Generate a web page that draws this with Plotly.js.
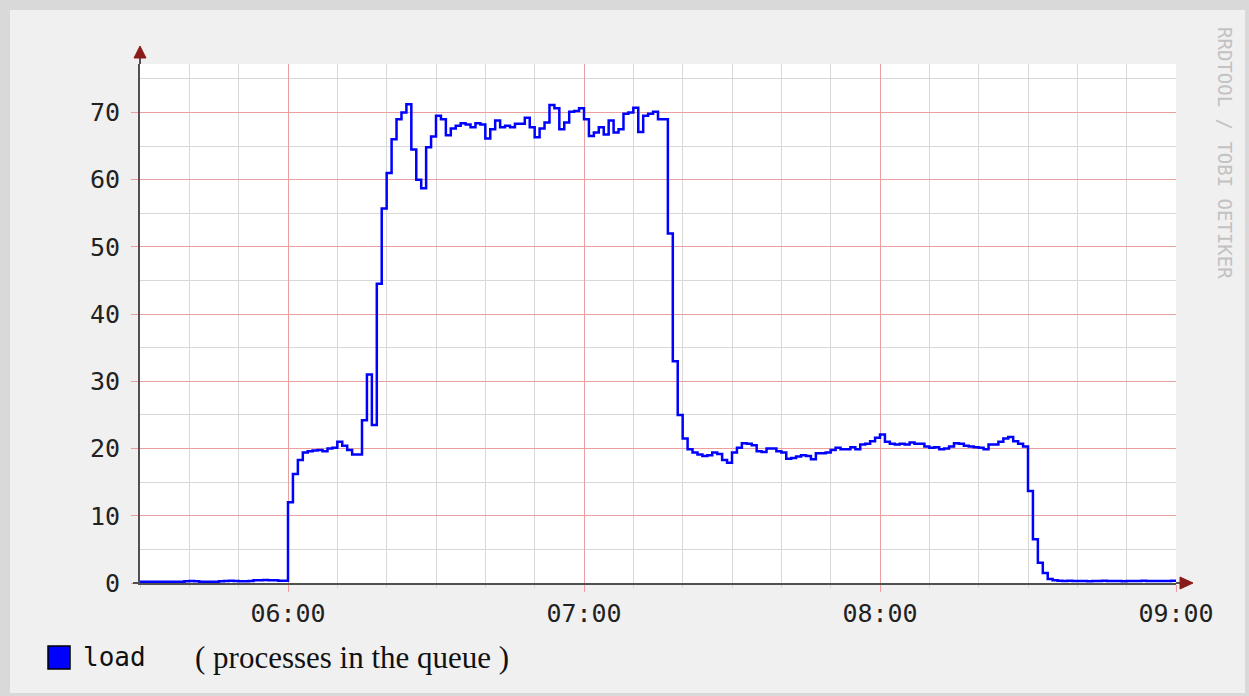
<!DOCTYPE html>
<html>
<head>
<meta charset="utf-8">
<script src="https://cdn.plot.ly/plotly-3.0.1.min.js"></script>
<style>
  html, body { margin:0; padding:0; width:1249px; height:696px; background:#d9d9d9; overflow:hidden; }
  #chart { position:absolute; left:10px; top:10px; width:1235px; height:683px; }
</style>
</head>
<body>
<div id="chart"></div>
<script>
// ---- data: load (processes in the queue), one value per minute ----
const seriesStart = '2024-01-01 05:30';   // first sample
const stepMinutes = 1;
const load0530 = [0.2,0.2,0.2,0.2,0.2,0.2,0.2,0.2,0.2,0.25,0.3,0.25,0.2,0.2,0.2,0.2,0.25,0.3,0.35,0.3,0.25,0.25,0.3,0.4,0.4,0.45,0.4,0.4,0.35,0.35];
const load0600 = [12,16.2,18.3,19.4,19.6,19.7,19.8,19.6,20.0,20.1,21.0,20.4,19.8,19.1,19.1,24.2,31.0,23.5,44.5,55.7,61.0,66.0,69.0,70.0,71.2,64.5,60.0,58.7,64.8,66.4];
const load0630 = [69.5,69.0,66.6,67.6,68.0,68.4,68.2,67.8,68.4,68.2,66.1,67.5,68.8,67.8,68.0,67.8,68.3,68.3,69.2,67.8,66.3,67.6,68.5,71.1,70.6,67.5,68.5,70.1,70.2,70.6];
const load0700 = [69.0,66.5,67.0,67.8,66.7,68.8,67.0,67.5,69.8,70.0,70.7,67.1,69.5,69.8,70.1,69.0,69.0,52.0,33.0,25.0,21.5,19.9,19.4,19.1,18.9,19.0,19.4,19.2,18.3,17.9];
const load0730 = [19.4,20.1,20.8,20.7,20.5,19.6,19.5,20.0,20.0,19.6,19.4,18.5,18.6,18.8,19.0,18.9,18.4,19.3,19.3,19.4,19.8,20.1,19.9,19.9,20.2,19.9,20.6,20.7,21.1,21.6];
const load0800 = [22.1,21.0,20.7,20.6,20.7,20.6,20.9,20.7,20.7,20.3,20.1,20.2,19.9,20.0,20.3,20.8,20.7,20.4,20.3,20.2,20.1,19.9,20.6,20.6,21.0,21.5,21.7,21.1,20.7,20.3];
const load0830 = [13.7,6.5,3.0,1.5,0.6,0.4,0.35,0.3,0.35,0.3,0.3,0.3,0.25,0.3,0.3,0.35,0.3,0.3,0.3,0.25,0.3,0.3,0.3,0.35,0.3,0.3,0.3,0.3,0.3,0.35,0.3];

const xRange = ['2024-01-01 05:30', '2024-01-01 09:00'];
const yRange = [0, 77.2];
const majorTick0 = '2024-01-01 06:00';
const legendName = 'load';
const legendNote = '( processes in the queue )';
const watermark = 'RRDTOOL / TOBI OETIKER';

// ---- build series ----
const loadValues = [].concat(load0530, load0600, load0630, load0700, load0730, load0800, load0830);
function pad(n){ return (n < 10 ? '0' : '') + n; }
const startMs = Date.UTC(2024, 0, 1, 5, 30);
const times = loadValues.map((_, i) => {
  const d = new Date(startMs + i * stepMinutes * 60000);
  return d.getUTCFullYear() + '-' + pad(d.getUTCMonth()+1) + '-' + pad(d.getUTCDate()) + ' ' +
         pad(d.getUTCHours()) + ':' + pad(d.getUTCMinutes());
});

// ---- page geometry helpers (page pixels -> paper fraction) ----
const PL = 140, PR = 1176, PT = 64, PB = 583;
const px = x => (x - PL) / (PR - PL);
const py = y => (PB - y) / (PB - PT);

const RED = '#eaa0a0';
const GRAY = '#d8d8d8';
const AXIS = '#505050';
const ARROW = '#8b1a1a';
const MONO = 'DejaVu Sans Mono, monospace';

const trace = {
  x: times, y: loadValues, type: 'scatter', mode: 'lines',
  line: { color: '#0000ff', width: 2.5, shape: 'hv' },
  hoverinfo: 'skip'
};

const layout = {
  width: 1235, height: 683,
  margin: { l: 130, r: 69, t: 54, b: 110 },
  paper_bgcolor: '#f0f0f0',
  plot_bgcolor: '#ffffff',
  showlegend: false,
  xaxis: {
    type: 'date', range: xRange, tickformat: '%H:%M',
    tick0: majorTick0, dtick: 3600000,
    showgrid: true, gridcolor: RED, gridwidth: 1,
    ticks: 'outside', ticklen: 7, tickcolor: RED, tickwidth: 1,
    minor: { dtick: 600000, showgrid: true, gridcolor: GRAY, gridwidth: 1, ticks: 'outside', ticklen: 3, tickcolor: GRAY },
    showline: true, linecolor: AXIS, linewidth: 2,
    zeroline: false,
    tickfont: { family: MONO, size: 25, color: '#222' },
    ticklabelstandoff: 0
  },
  yaxis: {
    range: yRange, tick0: 0, dtick: 10,
    showgrid: true, gridcolor: RED, gridwidth: 1,
    ticks: 'outside', ticklen: 7, tickcolor: RED, tickwidth: 1,
    minor: { dtick: 5, showgrid: true, gridcolor: GRAY, gridwidth: 1 },
    showline: true, linecolor: AXIS, linewidth: 2,
    zeroline: false,
    tickfont: { family: MONO, size: 25, color: '#222' },
    ticklabelstandoff: 6
  },
  shapes: [
    // y-axis extension + arrow head
    { type: 'path', xref: 'paper', yref: 'paper', xsizemode: 'pixel', ysizemode: 'pixel',
      xanchor: 0, yanchor: 1, path: 'M 0,0 L 0,7', line: { color: AXIS, width: 2 } },
    { type: 'path', xref: 'paper', yref: 'paper', xsizemode: 'pixel', ysizemode: 'pixel',
      xanchor: 0, yanchor: 1, path: 'M -6,6 L 6,6 L 0,18 Z', fillcolor: ARROW, line: { color: ARROW, width: 1 } },
    // x-axis extensions + arrow head
    { type: 'path', xref: 'paper', yref: 'paper', xsizemode: 'pixel', ysizemode: 'pixel',
      xanchor: 0, yanchor: 0, path: 'M -7,0 L 0,0', line: { color: AXIS, width: 2 } },
    { type: 'path', xref: 'paper', yref: 'paper', xsizemode: 'pixel', ysizemode: 'pixel',
      xanchor: 1, yanchor: 0, path: 'M 0,0 L 5,0', line: { color: AXIS, width: 2 } },
    { type: 'path', xref: 'paper', yref: 'paper', xsizemode: 'pixel', ysizemode: 'pixel',
      xanchor: 1, yanchor: 0, path: 'M 4,6 L 4,-6 L 17,0 Z', fillcolor: ARROW, line: { color: ARROW, width: 1 } },
    // legend swatch
    { type: 'rect', xref: 'paper', yref: 'paper', x0: px(48), x1: px(70), y0: py(669), y1: py(646),
      fillcolor: '#0000ff', line: { color: '#000000', width: 1.5 } }
  ],
  annotations: [
    { text: legendName, xref: 'paper', yref: 'paper', x: px(81), y: py(657), xanchor: 'left', yanchor: 'middle',
      showarrow: false, font: { family: MONO, size: 26, color: '#111' } },
    { text: legendNote, xref: 'paper', yref: 'paper', x: px(193), y: py(657), xanchor: 'left', yanchor: 'middle',
      showarrow: false, font: { family: 'Liberation Serif, serif', size: 31, color: '#111' } },
    { text: watermark, xref: 'paper', yref: 'paper', x: px(1225), y: py(153), xanchor: 'center', yanchor: 'middle',
      textangle: 90, showarrow: false, font: { family: MONO, size: 19, color: '#c2c2c2' } }
  ]
};

Plotly.newPlot('chart', [trace], layout, { staticPlot: true, displayModeBar: false });
</script>
</body>
</html>
